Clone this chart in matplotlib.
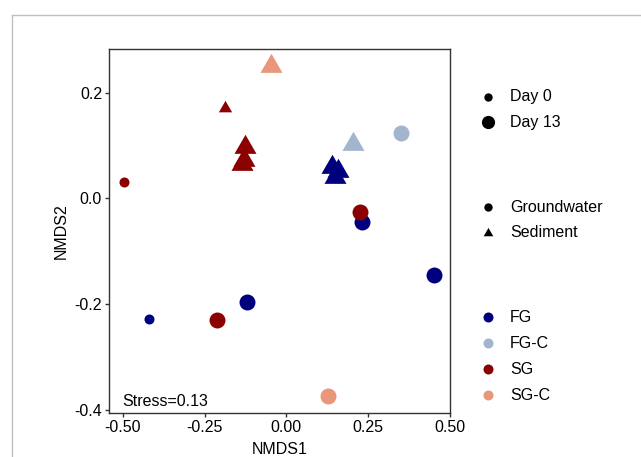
import numpy as np
import matplotlib
matplotlib.use('Agg')
import matplotlib.pyplot as plt
from matplotlib.lines import Line2D

plt.rcParams['font.family'] = ['Liberation Sans', 'DejaVu Sans']

# NMDS scores
nmds1 = [-0.420, -0.120, 0.231, 0.452, 0.139, 0.158, 0.148,
         0.349, 0.204,
         -0.495, -0.2125, 0.224, -0.189, -0.128, -0.136, -0.130,
         0.128, -0.048]
nmds2 = [-0.228, -0.196, -0.045, -0.145, 0.059, 0.051, 0.040,
         0.123, 0.103,
         0.031, -0.230, -0.026, 0.171, 0.098, 0.065, 0.072,
         -0.374, 0.251]
group = ['FG'] * 7 + ['FG-C'] * 2 + ['SG'] * 7 + ['SG-C'] * 2
sample = ['Groundwater'] * 4 + ['Sediment'] * 3 + ['Groundwater', 'Sediment'] + \
         ['Groundwater'] * 3 + ['Sediment'] * 4 + ['Groundwater', 'Sediment']
day = [0, 13, 13, 13, 13, 13, 13,
       13, 13,
       0, 13, 13, 0, 13, 13, 13,
       13, 13]
stress = 0.13

groups = ['FG', 'FG-C', 'SG', 'SG-C']
colors = {'FG': '#00007F', 'FG-C': '#A2B5CD', 'SG': '#8B0000', 'SG-C': '#E9967A'}
tri = [(0, 1), (-0.866, -0.5), (0.866, -0.5)]  # equilateral, centred on centroid
markers = {'Groundwater': 'o', 'Sediment': tri}
sizes = {('Groundwater', 0): 52, ('Groundwater', 13): 132,
         ('Sediment', 0): 122, ('Sediment', 13): 335}

W, H = 641, 457
fig = plt.figure(figsize=(W / 100, H / 100), dpi=100)
ax = fig.add_axes([109 / W, 1 - 413 / H, 341 / W, 364 / H])

x = np.array(nmds1)
y = np.array(nmds2)
for g in groups:
    for i in range(len(x)):
        if group[i] != g:
            continue
        ax.scatter(x[i], y[i], s=sizes[(sample[i], day[i])], marker=markers[sample[i]],
                   color=colors[g], linewidths=0, zorder=3)

# ggplot style 5% expansion
xr = x.max() - x.min()
yr = y.max() - y.min()
ax.set_xlim(x.min() - 0.05 * xr, x.max() + 0.05 * xr)
ax.set_ylim(y.min() - 0.05 * yr, y.max() + 0.05 * yr)
ax.set_xticks([-0.5, -0.25, 0, 0.25, 0.5])
ax.set_xticklabels(['-0.50', '-0.25', '0.00', '0.25', '0.50'])
ax.set_yticks([-0.4, -0.2, 0, 0.2])
ax.set_yticklabels(['-0.4', '-0.2', '0.0', '0.2'])

for sp in ax.spines.values():
    sp.set_color('#333333')
    sp.set_linewidth(1.0)
ax.tick_params(colors='#333333', labelcolor='black', length=3, width=1.0,
               labelsize=11.5, pad=2)
ax.set_xlabel('NMDS1', fontsize=11.5, labelpad=5)
ax.set_ylabel('NMDS2', fontsize=11.5, labelpad=4)
ax.text(0.04, 0.02, 'Stress=%.2f' % stress, transform=ax.transAxes,
        fontsize=11.5, ha='left', va='baseline')

# legends drawn by hand to the right of the panel
def legend_item(py, marker, ms, color, label):
    fig.add_artist(Line2D([488 / W], [1 - py / H], transform=fig.transFigure,
                          marker=marker, markersize=ms, color=color,
                          markeredgewidth=0, linestyle='none'))
    fig.text(510 / W, 1 - py / H, label, fontsize=11.5, va='center', ha='left')

legend_item(97, 'o', 6, 'black', 'Day 0')
legend_item(122, 'o', 9.5, 'black', 'Day 13')
legend_item(207, 'o', 6, 'black', 'Groundwater')
legend_item(233, tri, 8, 'black', 'Sediment')
for k, g in enumerate(groups):
    legend_item(317 + k * 26, 'o', 7.2, colors[g], g)

# grey frame of the original screenshot
bx = 11.5 / W
by = 1 - 14.5 / H
fig.add_artist(Line2D([bx, 1], [by, by], transform=fig.transFigure, color='#c0c0c0', lw=1))
fig.add_artist(Line2D([bx, bx], [0, by], transform=fig.transFigure, color='#c0c0c0', lw=1))

fig.savefig('out.png', dpi=100)
